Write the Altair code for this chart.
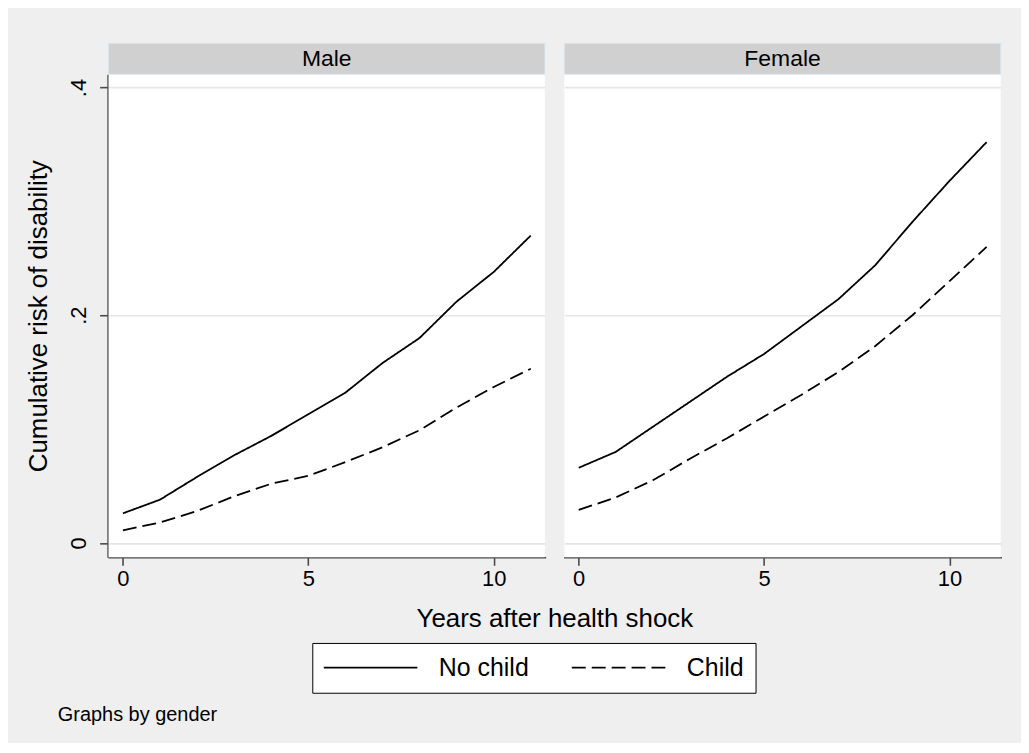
import altair as alt
import pandas as pd

years = list(range(12))
genders = ["Male", "Female"]
groups = ["No child", "Child"]

male_no_child = [0.026, 0.038, 0.058, 0.077, 0.094, 0.113, 0.132, 0.158, 0.180, 0.212, 0.238, 0.270]
male_child = [0.011, 0.018, 0.028, 0.041, 0.052, 0.059, 0.071, 0.084, 0.099, 0.119, 0.137, 0.153]
female_no_child = [0.066, 0.080, 0.102, 0.124, 0.146, 0.166, 0.190, 0.214, 0.244, 0.282, 0.318, 0.352]
female_child = [0.029, 0.040, 0.055, 0.074, 0.092, 0.111, 0.130, 0.150, 0.173, 0.200, 0.230, 0.260]

series = {
    ("Male", "No child"): male_no_child,
    ("Male", "Child"): male_child,
    ("Female", "No child"): female_no_child,
    ("Female", "Child"): female_child,
}
rows = []
for (g, grp), vals in series.items():
    for yr, v in zip(years, vals):
        rows.append({"gender": g, "group": grp, "year": yr, "risk": v})
df = pd.DataFrame(rows)

FONT = "Liberation Sans"
PW, PH = 438, 485

x_enc = alt.X(
    "year:Q",
    scale=alt.Scale(domain=[-0.386, 11.38], nice=False, zero=False),
    axis=alt.Axis(values=[0, 5, 10], title=None, grid=False, format="d"),
)
y_enc = alt.Y(
    "risk:Q",
    scale=alt.Scale(domain=[-0.0126, 0.4117], nice=False, zero=False),
    axis=alt.Axis(
        values=[0, 0.2, 0.4],
        title="Cumulative risk of disability",
        labelExpr="datum.value == 0 ? '0' : '.' + round(datum.value * 10)",
        labelAngle=-90,
        labelAlign="center",
        labelBaseline="bottom",
        labelPadding=9,
        titlePadding=16,
        grid=True,
    ),
)

lines = alt.Chart().mark_line(color="black", strokeWidth=1.8).encode(
    x=x_enc,
    y=y_enc,
    strokeDash=alt.StrokeDash(
        "group:N",
        scale=alt.Scale(domain=groups, range=[[1, 0], [14, 6]]),
        legend=alt.Legend(
            title=None,
            orient="none",
            legendX=204.5,
            legendY=571,
            direction="horizontal",
            symbolType="M-5,0H5",
            symbolSize=353,
            symbolOffset=34,
            symbolStrokeWidth=1.8,
            symbolStrokeColor="black",
            labelFontSize=25,
            labelFont=FONT,
            labelColor="black",
            labelOffset=56,
            columnPadding=38,
            padding=12,
            strokeColor="black",
            fillColor="white",
        ),
    ),
    detail="group:N",
)

strip_rect = alt.Chart().mark_rect(
    fill="#d0d0d0", stroke="#d8e6ec", strokeWidth=1
).encode(
    x=alt.value(0), x2=alt.value(PW), y=alt.value(-31), y2=alt.value(0)
).transform_filter("datum.year == 0 && datum.group == 'No child'")

strip_text = alt.Chart().mark_text(
    fontSize=23, font=FONT, color="black", baseline="middle", align="center"
).encode(
    text="gender:N", x=alt.value(PW / 2), y=alt.value(-15.5)
).transform_filter("datum.year == 0 && datum.group == 'No child'")

layered = alt.layer(strip_rect, strip_text, lines).properties(width=PW, height=PH)

chart = layered.facet(
    data=df,
    column=alt.Column(
        "gender:N",
        sort=genders,
        header=alt.Header(
            labels=False,
            title="Years after health shock",
            titleOrient="bottom",
            titleFontSize=26,
            titleFont=FONT,
            titleColor="black",
            titleFontWeight="normal",
            titlePadding=7,
        ),
    ),
    spacing=17.6,
).properties(
    title=alt.TitleParams(
        "Graphs by gender",
        orient="bottom",
        anchor="start",
        fontSize=20,
        font=FONT,
        fontWeight="normal",
        color="black",
        offset=12,
        dx=32,
    ),
    background="#efefef",
    padding={"left": 17, "top": 33, "right": 19, "bottom": 16},
).configure_view(
    fill="white", stroke=None
).configure_axis(
    labelFont=FONT,
    labelFontSize=22,
    labelColor="black",
    titleFont=FONT,
    titleFontSize=26,
    titleColor="black",
    titleFontWeight="normal",
    domainColor="#4b4b4b",
    domainWidth=1.6,
    tickColor="#4b4b4b",
    tickWidth=1.6,
    tickSize=8,
    gridColor="#e6e6e6",
    gridWidth=1.6,
).configure_axisX(
    labelPadding=3,
    domainCap="square",
)

chart.save("out.html", embed_options={"renderer": "svg", "actions": False})
